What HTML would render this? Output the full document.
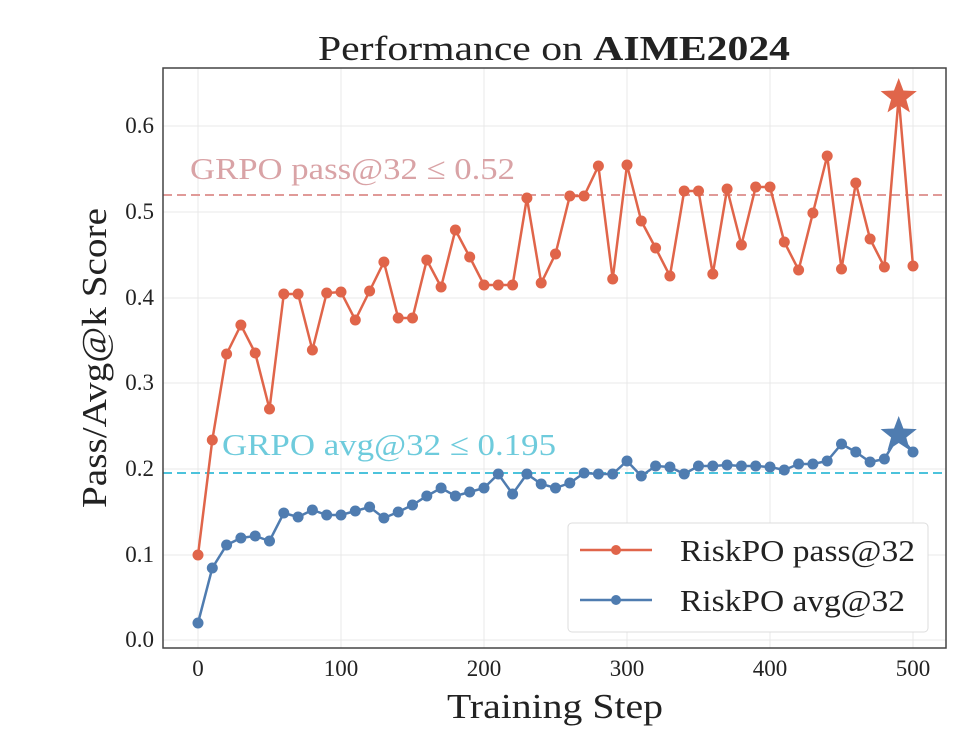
<!DOCTYPE html>
<html><head><style>body{margin:0;background:#fff}</style></head><body>
<svg width="976" height="738" xmlns="http://www.w3.org/2000/svg" font-family="Liberation Serif, serif">
<rect width="976" height="738" fill="#fff"/>
<g stroke="#e8e8e8" stroke-width="1">
<line x1="198" y1="68" x2="198" y2="648"/><line x1="341" y1="68" x2="341" y2="648"/><line x1="484" y1="68" x2="484" y2="648"/><line x1="627" y1="68" x2="627" y2="648"/><line x1="770" y1="68" x2="770" y2="648"/><line x1="913" y1="68" x2="913" y2="648"/>
<line x1="163" y1="640" x2="946" y2="640"/><line x1="163" y1="555" x2="946" y2="555"/><line x1="163" y1="469" x2="946" y2="469"/><line x1="163" y1="383" x2="946" y2="383"/><line x1="163" y1="298" x2="946" y2="298"/><line x1="163" y1="212" x2="946" y2="212"/><line x1="163" y1="126" x2="946" y2="126"/>
</g>
<line x1="163" y1="195" x2="946" y2="195" stroke="#e09a98" stroke-width="2" stroke-dasharray="9,5"/>
<line x1="163" y1="473" x2="946" y2="473" stroke="#4cc3dc" stroke-width="2" stroke-dasharray="9,5"/>
<text x="190" y="179" font-size="31" fill="#d9a3a6" textLength="325" lengthAdjust="spacingAndGlyphs">GRPO pass@32 ≤ 0.52</text>
<text x="222" y="455" font-size="31" fill="#6ecbdc" textLength="334" lengthAdjust="spacingAndGlyphs">GRPO avg@32 ≤ 0.195</text>
<g id="r"></g><g id="b"></g>
<rect x="163" y="68" width="783" height="580" fill="none" stroke="#444" stroke-width="1.5"/>
<g font-size="23" fill="#222" text-anchor="end">
<text x="154" y="647">0.0</text><text x="154" y="562">0.1</text><text x="154" y="476">0.2</text><text x="154" y="390">0.3</text><text x="154" y="305">0.4</text><text x="154" y="219">0.5</text><text x="154" y="133">0.6</text>
</g>
<g font-size="23" fill="#222" text-anchor="middle">
<text x="198" y="676">0</text><text x="341" y="676">100</text><text x="484" y="676">200</text><text x="627" y="676">300</text><text x="770" y="676">400</text><text x="913" y="676">500</text>
</g>
<text x="447" y="718" font-size="35" fill="#222" textLength="216" lengthAdjust="spacingAndGlyphs">Training Step</text>
<text transform="translate(106,358) rotate(-90)" font-size="35" text-anchor="middle" fill="#222" textLength="300" lengthAdjust="spacingAndGlyphs">Pass/Avg@k Score</text>
<text x="318" y="60" font-size="35" fill="#222" textLength="472" lengthAdjust="spacingAndGlyphs">Performance on <tspan font-weight="bold">AIME2024</tspan></text>
<rect x="568" y="523" width="360" height="109" rx="4" fill="#fff" stroke="#ddd"/>
<line x1="580" y1="550" x2="652" y2="550" stroke="#e0654a" stroke-width="2.5"/><circle cx="616" cy="550" r="5" fill="#e0654a"/>
<line x1="580" y1="600" x2="652" y2="600" stroke="#4f7cb0" stroke-width="2.5"/><circle cx="616" cy="600" r="5" fill="#4f7cb0"/>
<text x="680" y="561" font-size="31" fill="#222" textLength="235" lengthAdjust="spacingAndGlyphs">RiskPO pass@32</text>
<text x="680" y="611" font-size="31" fill="#222" textLength="225" lengthAdjust="spacingAndGlyphs">RiskPO avg@32</text>
</svg>
<script>
const R=[555,440,354,325,353,409,294,294,350,293,292,320,291,262,318,318,260,287,230,257,285,285,285,198,283,254,196,196,166,279,165,221,248,276,191,191,274,189,245,187,187,242,270,213,156,269,183,239,267,97,266];
const B=[623,568,545,538,536,541,513,517,510,515,515,511,507,518,512,505,496,488,496,492,488,474,494,474,484,488,483,473,474,474,461,476,466,467,474,466,466,465,466,466,467,470,464,464,461,444,452,462,459,435,452];
const ns="http://www.w3.org/2000/svg";
function draw(id,Y,c){const g=document.getElementById(id);let p=Y.map((y,i)=>(198+i*14.3).toFixed(1)+","+y).join(" ");
const pl=document.createElementNS(ns,"polyline");pl.setAttribute("points",p);pl.setAttribute("fill","none");pl.setAttribute("stroke",c);pl.setAttribute("stroke-width","2.5");g.appendChild(pl);
Y.forEach((y,i)=>{const x=198+i*14.3;if(i==49){const s=document.createElementNS(ns,"polygon");let pts=[];for(let k=0;k<10;k++){const r=k%2?8:19,a=-Math.PI/2+k*Math.PI/5;pts.push((x+r*Math.cos(a)).toFixed(1)+","+(y+r*Math.sin(a)).toFixed(1));}s.setAttribute("points",pts.join(" "));s.setAttribute("fill",c);g.appendChild(s);}else{const ci=document.createElementNS(ns,"circle");ci.setAttribute("cx",x);ci.setAttribute("cy",y);ci.setAttribute("r",5.5);ci.setAttribute("fill",c);g.appendChild(ci);}});}
draw("r",R,"#e0654a");draw("b",B,"#4f7cb0");
</script>
</body></html>
